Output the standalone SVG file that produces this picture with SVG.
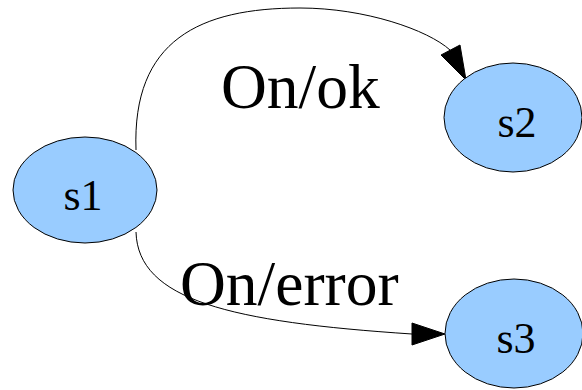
<svg xmlns="http://www.w3.org/2000/svg" width="582" height="390" viewBox="0 0 582 390">
<style>
.node ellipse{fill:#99ccff;stroke:#000;stroke-width:1}
.node text{font-family:"Liberation Serif","Times New Roman",serif;font-size:44px;fill:#000;text-anchor:middle}
.edge path{fill:none;stroke:#000;stroke-width:1}
.edge polygon{fill:#000;stroke:#000;stroke-width:1}
.label{font-family:"Liberation Serif","Times New Roman",serif;font-size:63.5px;fill:#000}
</style>
<rect width="582" height="390" fill="#fff"/>
<g id="connectors">
<g class="edge" id="e_s1_s2">
<path d="M136,150 C132,40 200,8 300,8 C365,8 428,30 450,50"/>
<polygon points="441,55 460,45 466,80"/>
<text class="label" x="221" y="108">On/ok</text>
</g>
<g class="edge" id="e_s1_s3">
<path d="M136,232 C138,300 230,322 412,334"/>
<polygon points="412,323 412,345 445,334"/>
<text class="label" x="180" y="305">On/error</text>
</g>
</g>
<g class="node" id="s1">
<ellipse cx="85" cy="190" rx="72" ry="53"/>
<text x="83" y="210">s1</text>
</g>
<g class="node" id="s2">
<ellipse cx="513" cy="117.5" rx="69" ry="54.5"/>
<text x="517" y="137">s2</text>
</g>
<g class="node" id="s3">
<ellipse cx="514" cy="333.5" rx="69" ry="54.5"/>
<text x="516" y="353">s3</text>
</g>
</svg>
